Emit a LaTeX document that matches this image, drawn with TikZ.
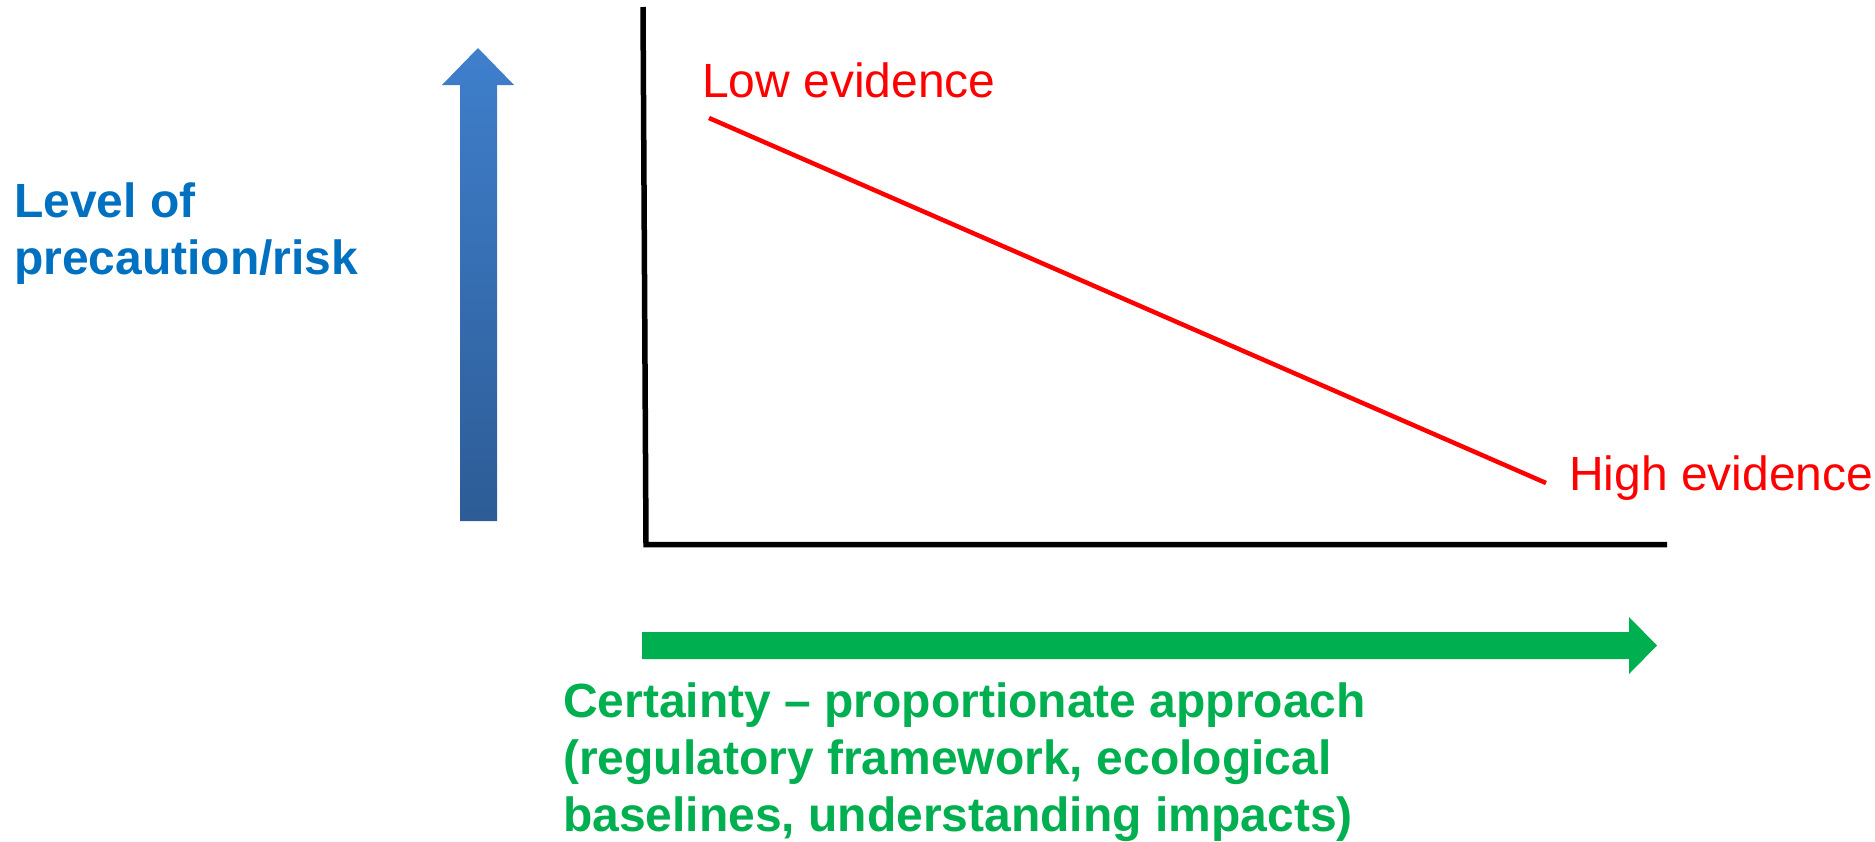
\documentclass[tikz,border=0pt]{standalone}
\usepackage{fontspec}
\setmainfont{Liberation Sans}
\definecolor{bluetxt}{HTML}{0070C0}
\definecolor{arrowtop}{HTML}{3F7FCC}
\definecolor{arrowbot}{HTML}{2D5C96}
\definecolor{greenarr}{HTML}{00B050}
\definecolor{redline}{HTML}{FF0000}
\tikzset{
  axisline/.style={line width=5.5bp, black},
  evline/.style={line width=4.5bp, redline},
  bluelabel/.style={anchor=base west, inner sep=0pt, text=bluetxt, font=\fontsize{48bp}{57bp}\selectfont\bfseries},
  redlabel/.style={anchor=base west, inner sep=0pt, text=redline, font=\fontsize{48bp}{57bp}\selectfont},
  greenlabel/.style={anchor=base west, inner sep=0pt, text=greenarr, font=\fontsize{48bp}{57bp}\selectfont\bfseries},
}
\begin{document}
\begin{tikzpicture}[x=1bp,y=-1bp]
\useasboundingbox (0,0) rectangle (1875,842);
% axes
\coordinate (ytop) at (643,7);
\coordinate (origin) at (646,544.5);
\coordinate (xend) at (1667,544.5);
\draw[axisline] (ytop) -- (origin) -- (xend);
% red evidence line
\coordinate (lowpt) at (709,118);
\coordinate (highpt) at (1546,483);
\draw[evline] (lowpt) -- (highpt);
\node[redlabel] (low) at (702,97) {Low evidence};
\node[redlabel] (high) at (1569,490) {High evidence};
% blue arrow
\shade[top color=arrowtop, bottom color=arrowbot]
  (478,48) -- (514,85) -- (497,85) -- (497,521) -- (460,521) -- (460,85) -- (442,85) -- cycle;
\node[bluelabel] (lvl1) at (14,217) {Level of};
\node[bluelabel] (lvl2) at (14,274) {precaution/risk};
% green arrow
\fill[greenarr] (642,632) -- (1629,632) -- (1629,617) -- (1657,645.5) -- (1629,674) -- (1629,659) -- (642,659) -- cycle;
\node[greenlabel] (cert1) at (563,717) {Certainty – proportionate approach};
\node[greenlabel] (cert2) at (563,774) {(regulatory framework, ecological};
\node[greenlabel] (cert3) at (563,831) {baselines, understanding impacts)};
\end{tikzpicture}
\end{document}
